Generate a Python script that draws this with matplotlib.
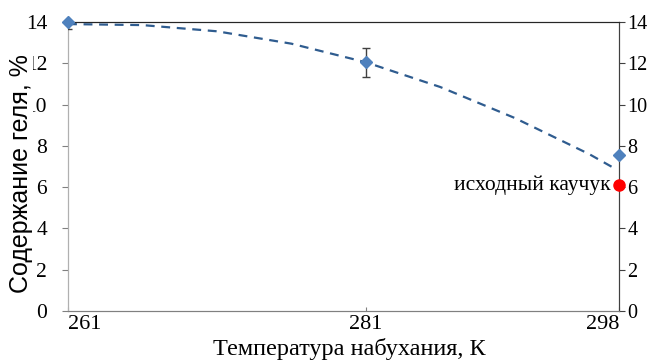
import matplotlib
matplotlib.use("Agg")
import matplotlib.pyplot as plt

plt.rcParams["font.family"] = ["Liberation Serif", "DejaVu Serif"]

# данные: температура набухания, К -> содержание геля, %
temp = [261, 281, 298]
gel = [14.0, 12.05, 7.55]
gel_err = [0.35, 0.7, 0.0]

# исходный каучук
raw_temp = 298
raw_gel = 6.1
raw_label = "исходный каучук"

# линия тренда
trend_temp = [261, 266, 271, 276, 281, 286, 291, 296, 297.6]
trend_val = [13.9, 13.85, 13.55, 12.95, 12.05, 10.85, 9.35, 7.6, 6.95]

yticks = list(range(0, 15, 2))
xticks = [261, 281, 298]

fig = plt.figure(figsize=(6.47, 3.6), dpi=100)
ax = fig.add_axes([68 / 647, 1 - 311 / 360, (619 - 68) / 647, (311 - 22) / 360])

ax.plot(trend_temp, trend_val, linestyle=(0, (4, 3)), color="#2F5C8F", linewidth=1.6, zorder=2)
ax.errorbar(temp, gel, yerr=gel_err, fmt="none", ecolor="#404040", elinewidth=1.0,
            capsize=3, capthick=1.0, zorder=3, clip_on=True)
ax.plot(temp, gel, linestyle="none", marker="D", markersize=6, color="#4F81BD", zorder=4,
        clip_on=False)
ax.plot([raw_temp], [raw_gel], linestyle="none", marker="o", markersize=8, color="#FF0000",
        zorder=5, clip_on=False)
ax.text(raw_temp - 0.55, raw_gel, raw_label, ha="right", va="center", fontsize=15.5)

ax.set_xlim(261, 298)
ax.set_ylim(0, 14)
ax.set_xticks(xticks)
ax.set_xticklabels([str(t) for t in xticks], fontsize=16)
labs = ax.get_xticklabels()
labs[0].set_ha("left")
labs[-1].set_ha("right")
ax.tick_params(axis="x", direction="in", length=3, pad=3, color="#808080")
ax.set_yticks(yticks)
ax.set_yticklabels([str(v) for v in yticks], fontsize=15.5)
ax.tick_params(axis="y", direction="out", length=4, pad=11, color="#808080")

ax2 = ax.twinx()
ax2.set_ylim(0, 14)
ax2.set_yticks(yticks)
ax2.set_yticklabels([str(v) for v in yticks], fontsize=14.5)
ax2.tick_params(axis="y", direction="out", length=4, pad=2, color="#404040")

for a in (ax, ax2):
    a.spines["left"].set_color("#B0B0B0")
    a.spines["bottom"].set_color("#808080")
    a.spines["right"].set_color("#404040")
    a.spines["top"].set_color("#262626")

ax.set_xlabel("Температура набухания, К", fontsize=17.5)
ax.set_ylabel("Содержание геля, %", fontsize=18, family=["Liberation Sans", "DejaVu Sans"],
              bbox=dict(facecolor="white", edgecolor="none", pad=0))
ax.yaxis.set_label_coords(-0.063, 0.477)
ax.xaxis.set_label_coords(0.51, -0.095)
ax.set_zorder(ax2.get_zorder() + 1)
ax.patch.set_visible(False)

fig.savefig("out.png", dpi=100)
